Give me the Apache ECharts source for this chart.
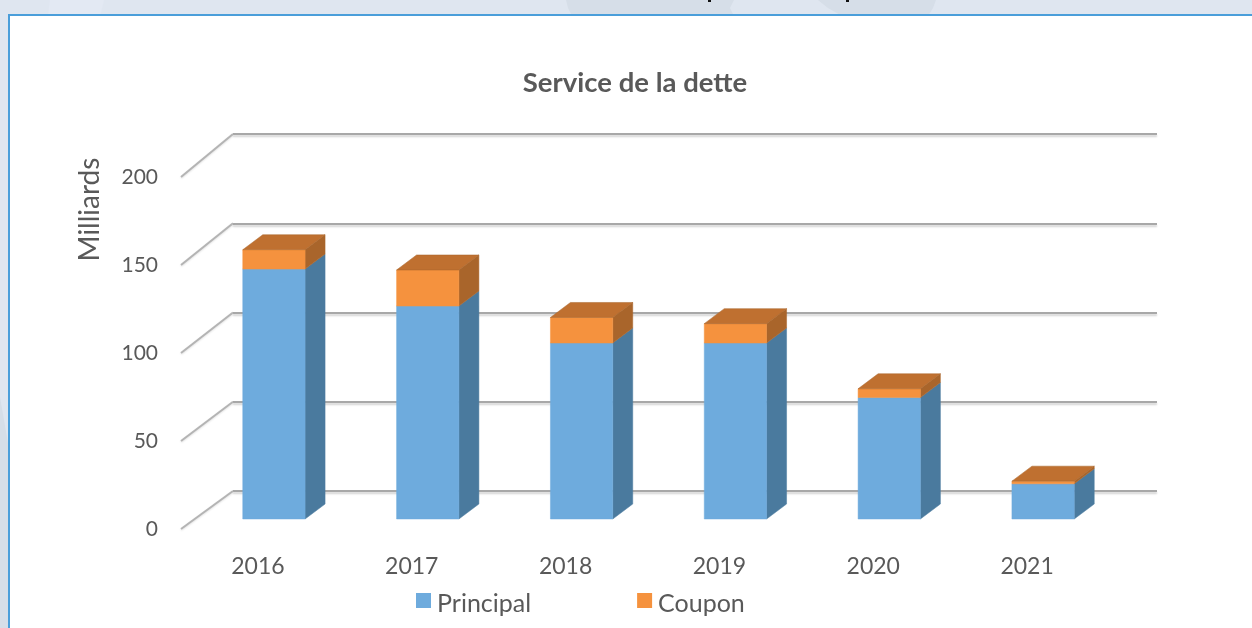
<!DOCTYPE html>
<html>
<head>
<meta charset="utf-8">
<title>Service de la dette</title>
<script src="https://cdn.jsdelivr.net/npm/echarts@6/dist/echarts.min.js"></script>
<style>
  html, body { margin: 0; padding: 0; background: #dfe6f0; }
  #chart { width: 1252px; height: 628px; }
</style>
</head>
<body>
<div id="chart"></div>
<script>
const years = ['2016', '2017', '2018', '2019', '2020', '2021'];
const principal = [142, 121, 100, 100, 69, 20];
const coupon = [11, 20.5, 14.5, 11, 5, 1.5];
const yTicks = [0, 50, 100, 150, 200];

const chart = echarts.init(document.getElementById('chart'));

// profondeur des barres (faux 3D facon Excel)
const DX = 20;
const DY = -15;
const SHIFT_X = 16;
const SHIFT_Y = -10;

const renderBox = (color, sideColor, topColor, withTop) => (params, api) => {
  const i = api.value(0);
  const from = api.coord([i, api.value(1)]);
  const to = api.coord([i, api.value(2)]);
  const w = api.size([1, 0])[0] * 0.405;
  const x0 = from[0] + SHIFT_X - w / 2;
  const x1 = x0 + w;
  const yb = from[1] + SHIFT_Y;
  const yt = to[1] + SHIFT_Y;
  const kids = [
    {
      type: 'polygon',
      shape: { points: [[x1, yb], [x1 + DX, yb + DY], [x1 + DX, yt + DY], [x1, yt]] },
      style: { fill: sideColor, stroke: sideColor, lineWidth: 0.5 }
    },
    {
      type: 'rect',
      shape: { x: x0, y: yt, width: w, height: yb - yt },
      style: { fill: color, stroke: color, lineWidth: 0.5 }
    }
  ];
  if (withTop) {
    kids.push({
      type: 'polygon',
      shape: { points: [[x0, yt], [x0 + DX, yt + DY], [x1 + DX, yt + DY], [x1, yt]] },
      style: { fill: topColor, stroke: '#a9652b', lineWidth: 0.5 }
    });
  }
  return { type: 'group', children: kids };
};

// petites diagonales entre le mur du fond et l'axe avant
const renderDiagonal = (params, api) => {
  const v = api.value(0);
  const back = chart.convertToPixel({ xAxisIndex: 1, yAxisIndex: 1 }, [0, v]);
  const front = chart.convertToPixel({ xAxisIndex: 0, yAxisIndex: 0 }, [0, v]);
  const left = front[0] - api.size([1, 0])[0] / 2;
  return {
    type: 'line',
    shape: { x1: left, y1: front[1], x2: back[0], y2: back[1] },
    style: { stroke: '#b4b4b4', lineWidth: 2, shadowColor: 'rgba(0,0,0,0.12)', shadowBlur: 2, shadowOffsetY: 1 }
  };
};

const bgPatches = [
  { type: 'polygon', shape: { points: [[566, 0], [734, 0], [730, 8], [734, 16], [572, 16], [568, 8]] }, style: { fill: '#d6dee8' } },
  { type: 'polygon', shape: { points: [[818, 0], [936, 0], [933, 8], [928, 16], [842, 16], [828, 8]] }, style: { fill: '#d6dee8' } },
  { type: 'polygon', shape: { points: [[50, 0], [104, 0], [100, 16], [48, 16]] }, style: { fill: '#e3e9f3' } },
  { type: 'polygon', shape: { points: [[0, 397], [8, 443], [8, 628], [0, 628]] }, style: { fill: '#d6dee8' } },
  // jambages du titre coupe en haut de la capture
  { type: 'rect', shape: { x: 708, y: 0, width: 3, height: 2 }, style: { fill: '#111' } },
  { type: 'rect', shape: { x: 846, y: 0, width: 3, height: 2 }, style: { fill: '#111' } },
  // cadre bleu
  {
    type: 'rect',
    shape: { x: 9, y: 15, width: 1260, height: 640 },
    style: { fill: '#ffffff', stroke: '#4a9eda', lineWidth: 2 }
  }
];

chart.setOption({
  animation: false,
  backgroundColor: '#dfe6f0',
  textStyle: { fontFamily: 'Lato, Open Sans, sans-serif' },
  graphic: { elements: bgPatches.map(e => ({ ...e, silent: true, z: -10 })) },
  title: {
    text: 'Service de la dette',
    left: 630,
    top: 64,
    textAlign: 'center',
    textStyle: { fontSize: 27.5, fontWeight: 'bold', color: '#595959', fontFamily: 'Lato' }
  },
  legend: {
    left: 416,
    top: 591,
    padding: 0,
    icon: 'rect',
    itemWidth: 15,
    itemHeight: 15,
    itemGap: 106,
    selectedMode: false,
    data: ['Principal', 'Coupon'],
    formatter: '{a|{name}}',
    textStyle: {
      rich: { a: { fontSize: 25, color: '#595959', fontFamily: 'Lato', padding: [6, 0, 0, 1] } }
    }
  },
  grid: [
    // plan avant : labels et barres
    { left: 181, top: 177, width: 923, height: 352 },
    // mur du fond : lignes de grille
    { left: 233, top: 134, width: 924, height: 357 }
  ],
  xAxis: [
    {
      type: 'category',
      gridIndex: 0,
      data: years,
      axisLine: { show: false },
      axisTick: { show: false },
      axisLabel: { fontSize: 23, color: '#595959', margin: 26, fontFamily: 'Lato' }
    },
    {
      type: 'value',
      gridIndex: 1,
      min: 0,
      max: 1,
      axisLine: { show: false },
      axisTick: { show: false },
      axisLabel: { show: false },
      splitLine: { show: false }
    }
  ],
  yAxis: [
    {
      type: 'value',
      gridIndex: 0,
      min: 0,
      max: 200,
      interval: 50,
      name: 'Milliards',
      nameLocation: 'end',
      nameRotate: 90,
      nameGap: 0,
      nameTextStyle: { fontSize: 28, color: '#595959', fontFamily: 'Lato', align: 'center', verticalAlign: 'bottom', padding: [0, 65, 77, 0] },
      axisLine: { show: false },
      axisTick: { show: false },
      splitLine: { show: false },
      axisLabel: { fontSize: 21, color: '#595959', margin: 23, fontFamily: 'Lato', padding: [11, 0, 0, 0] }
    },
    {
      type: 'value',
      gridIndex: 1,
      min: 0,
      max: 200,
      interval: 50,
      axisLine: { show: false },
      axisTick: { show: false },
      axisLabel: { show: false },
      splitLine: {
        lineStyle: { color: '#a8a8a8', width: 2, shadowColor: 'rgba(0,0,0,0.18)', shadowBlur: 2, shadowOffsetY: 2 }
      }
    }
  ],
  series: [
    {
      type: 'custom',
      name: 'grille',
      silent: true,
      xAxisIndex: 0,
      yAxisIndex: 0,
      z: 1,
      renderItem: renderDiagonal,
      encode: { y: 0 },
      data: yTicks.map(v => [v])
    },
    {
      type: 'custom',
      name: 'Principal',
      xAxisIndex: 0,
      yAxisIndex: 0,
      z: 3,
      itemStyle: { color: '#6eabdd' },
      renderItem: renderBox('#6eabdd', '#4a7a9e', null, false),
      encode: { x: 0, y: [1, 2] },
      data: principal.map((v, i) => [i, 0, v])
    },
    {
      type: 'custom',
      name: 'Coupon',
      xAxisIndex: 0,
      yAxisIndex: 0,
      z: 3,
      itemStyle: { color: '#f5923e' },
      renderItem: renderBox('#f5923e', '#a9652b', '#bf7030', true),
      encode: { x: 0, y: [1, 2] },
      data: coupon.map((v, i) => [i, principal[i], principal[i] + v])
    }
  ]
});

window.addEventListener('resize', () => chart.resize());
</script>
</body>
</html>
